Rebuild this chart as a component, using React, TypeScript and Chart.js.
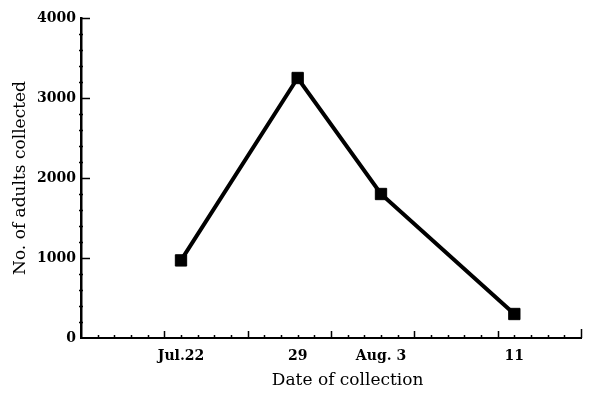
import React, { useEffect, useRef } from "react";
import { Chart, registerables } from "chart.js";

Chart.register(...registerables);

// Dates of collection (labels) and their day offset from Jul. 16 (axis start)
const dateLabels = ["Jul.22", "29", "Aug. 3", "11"];
const dayOffsets = [6, 13, 18, 26];
// No. of adults collected
const adultCounts = [970, 3250, 1800, 300];
// axis ranges / ticks
const xDayMin = 0;
const xDayMax = 30;
const yTickValues = [0, 1000, 2000, 3000, 4000];
const xTitle = "Date of collection";
const yTitle = "No. of adults collected";

const FONT = "'DejaVu Serif', 'Liberation Serif', serif";

const tickMarks = {
  id: "tickMarks",
  afterDraw(chart: any) {
    const { ctx, chartArea, scales } = chart;
    const x = scales.x;
    const y = scales.y;
    ctx.save();
    ctx.strokeStyle = "#000";
    ctx.lineWidth = 1.5;
    ctx.beginPath();
    for (let d = xDayMin + 1; d <= xDayMax; d++) {
      const px = Math.round(x.getPixelForValue(d)) + 0.5;
      const len = d === xDayMax ? 9 : d % 5 === 0 ? 7 : 3;
      ctx.moveTo(px, chartArea.bottom);
      ctx.lineTo(px, chartArea.bottom - len);
    }
    for (let v = 200; v <= 4000; v += 200) {
      const py = Math.round(y.getPixelForValue(v)) + 0.5;
      const major = v % 1000 === 0;
      ctx.moveTo(chartArea.left - (major ? 0 : 2), py);
      ctx.lineTo(chartArea.left + (major ? 9 : 2), py);
    }
    ctx.stroke();
    // x-axis title, centred slightly right of the plot centre as in the original
    ctx.fillStyle = "#000";
    ctx.font = `17px ${FONT}`;
    ctx.textAlign = "center";
    ctx.textBaseline = "middle";
    ctx.fillText(xTitle, x.getPixelForValue(16), chart.height - 12);
    ctx.restore();
  },
};

export default function App() {
  const ref = useRef<HTMLCanvasElement | null>(null);
  useEffect(() => {
    if (!ref.current) return;
    const chart = new Chart(ref.current, {
      type: "line",
      data: {
        datasets: [
          {
            data: dayOffsets.map((d, i) => ({ x: d, y: adultCounts[i] })),
            borderColor: "#000",
            backgroundColor: "#000",
            borderWidth: 4,
            pointStyle: "rect",
            pointRadius: 8,
            pointBorderWidth: 1,
            tension: 0,
          },
        ],
      },
      options: {
        animation: false,
        responsive: false,
        layout: { padding: { left: 0, right: 14, top: 18, bottom: 0 } },
        plugins: { legend: { display: false }, tooltip: { enabled: false } },
        scales: {
          x: {
            type: "linear",
            min: xDayMin,
            max: xDayMax,
            afterBuildTicks: (s: any) => {
              s.ticks = dayOffsets.map((v) => ({ value: v }));
            },
            afterFit: (s: any) => {
              s.height = 55;
            },
            grid: { display: false, drawTicks: false },
            border: { display: true, color: "#000", width: 2 },
            ticks: {
              color: "#000",
              padding: 10,
              maxRotation: 0,
              autoSkip: false,
              font: { family: FONT, size: 14, weight: "bold" },
              callback: (v: any) => {
                const i = dayOffsets.indexOf(Number(v));
                return i >= 0 ? dateLabels[i] : "";
              },
            },
            title: { display: false, text: xTitle },
          },
          y: {
            min: 0,
            max: 4000,
            afterBuildTicks: (s: any) => {
              s.ticks = yTickValues.map((v) => ({ value: v }));
            },
            afterFit: (s: any) => {
              s.width = 81;
            },
            grid: { display: false, drawTicks: false },
            border: { display: true, color: "#000", width: 2.5 },
            ticks: {
              color: "#000",
              padding: 5,
              font: { family: FONT, size: 14, weight: "bold" },
              callback: (v: any) => String(v),
            },
            title: {
              display: true,
              text: yTitle,
              color: "#000",
              font: { family: FONT, size: 17 },
              padding: { top: 10, bottom: 0 },
            },
          },
        },
      },
      plugins: [tickMarks],
    });
    return () => chart.destroy();
  }, []);
  return (
    <div style={{ position: "absolute", left: 0, top: 0, width: 595, height: 393, background: "#fff" }}>
      <canvas ref={ref} width={595} height={393} style={{ width: 595, height: 393 }} />
    </div>
  );
}
